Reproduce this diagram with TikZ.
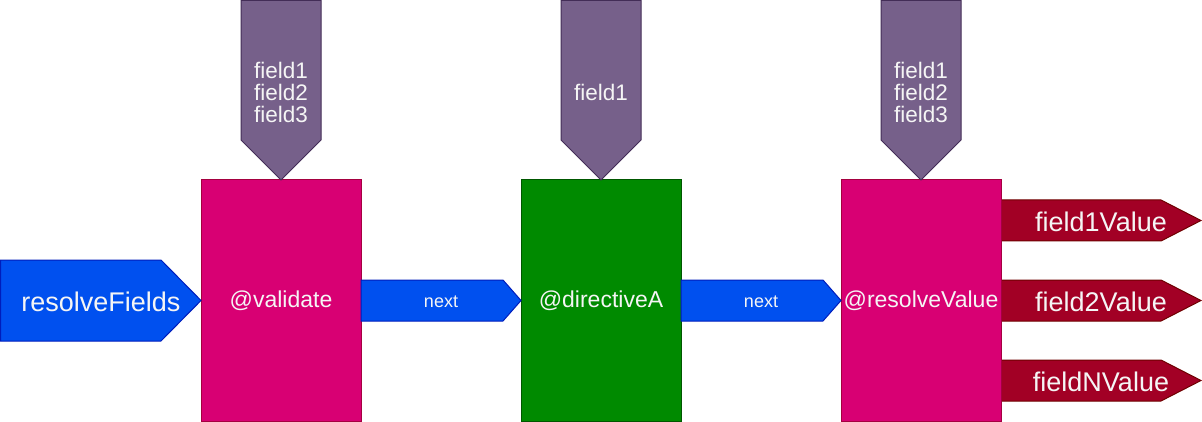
\documentclass[tikz,border=0pt]{standalone}
\usepackage{fontspec}
\setmainfont{Liberation Sans}
\definecolor{cPink}{HTML}{D80073}
\definecolor{cPinkD}{HTML}{A50040}
\definecolor{cGreen}{HTML}{008A00}
\definecolor{cGreenD}{HTML}{005700}
\definecolor{cPurple}{HTML}{76608A}
\definecolor{cPurpleD}{HTML}{432D57}
\definecolor{cBlue}{HTML}{0050EF}
\definecolor{cBlueD}{HTML}{001DBC}
\definecolor{cRed}{HTML}{A20025}
\definecolor{cRedD}{HTML}{6F0000}
\definecolor{cText}{HTML}{F5F5F5}
\begin{document}
\begin{tikzpicture}[x=1pt,y=-1pt,
  pinkbox/.style={fill=cPink,draw=cPinkD,line width=1pt},
  greenbox/.style={fill=cGreen,draw=cGreenD,line width=1pt},
  purpleshape/.style={fill=cPurple,draw=cPurpleD,line width=1pt},
  blueshape/.style={fill=cBlue,draw=cBlueD,line width=1pt},
  redshape/.style={fill=cRed,draw=cRedD,line width=1pt},
  lbl/.style={text=cText,inner sep=0pt,align=center},
  bigfont/.style={font=\fontsize{27}{27}\selectfont},
  boxfont/.style={font=\fontsize{23}{23}\selectfont},
  fieldfont/.style={font=\fontsize{22.5}{22}\selectfont},
  nextfont/.style={font=\fontsize{18}{18}\selectfont}]
\useasboundingbox (0,0) rectangle (1202,422);

% output arrows (behind the box)
\draw[redshape] (1001,200) -- (1161,200) -- (1201,220.5) -- (1161,241) -- (1001,241) -- cycle;
\draw[redshape] (1001,280) -- (1161,280) -- (1201,300.5) -- (1161,321) -- (1001,321) -- cycle;
\draw[redshape] (1001,360) -- (1161,360) -- (1201,380.5) -- (1161,401) -- (1001,401) -- cycle;

% main boxes
\draw[pinkbox] (201,180) rectangle (361,421);
\draw[greenbox] (521,180) rectangle (681,421);
\draw[pinkbox] (841,180) rectangle (1001,421);

% input arrow
\draw[blueshape] (0.5,260) -- (161,260) -- (201,300.5) -- (161,341) -- (0.5,341) -- cycle;
% next arrows
\draw[blueshape] (361,280) -- (503,280) -- (521,300.5) -- (503,321) -- (361,321) -- cycle;
\draw[blueshape] (681,280) -- (823,280) -- (841,300.5) -- (823,321) -- (681,321) -- cycle;

% top pentagons
\draw[purpleshape] (241,0.5) -- (321,0.5) -- (321,140) -- (281,180) -- (241,140) -- cycle;
\draw[purpleshape] (561,0.5) -- (641,0.5) -- (641,140) -- (601,180) -- (561,140) -- cycle;
\draw[purpleshape] (881,0.5) -- (961,0.5) -- (961,140) -- (921,180) -- (881,140) -- cycle;

% labels
\node[lbl,bigfont] (rf) at (101,302) {resolveFields};
\node[lbl,boxfont] (val) at (281,301) {@validate};
\node[lbl,boxfont] (dirA) at (601,301) {@directiveA};
\node[lbl,boxfont] (resV) at (921,301) {@resolveValue};
\node[lbl,nextfont] (n1) at (441,302) {next};
\node[lbl,nextfont] (n2) at (761,302) {next};
\node[lbl,fieldfont] (f1) at (281,92.5) {field1\\field2\\field3};
\node[lbl,fieldfont] (f2) at (601,92) {field1};
\node[lbl,fieldfont] (f3) at (921,92.5) {field1\\field2\\field3};
\node[lbl,bigfont] (o1) at (1101,222) {field1Value};
\node[lbl,bigfont] (o2) at (1101,302) {field2Value};
\node[lbl,bigfont] (o3) at (1101,382) {fieldNValue};
\end{tikzpicture}
\end{document}
